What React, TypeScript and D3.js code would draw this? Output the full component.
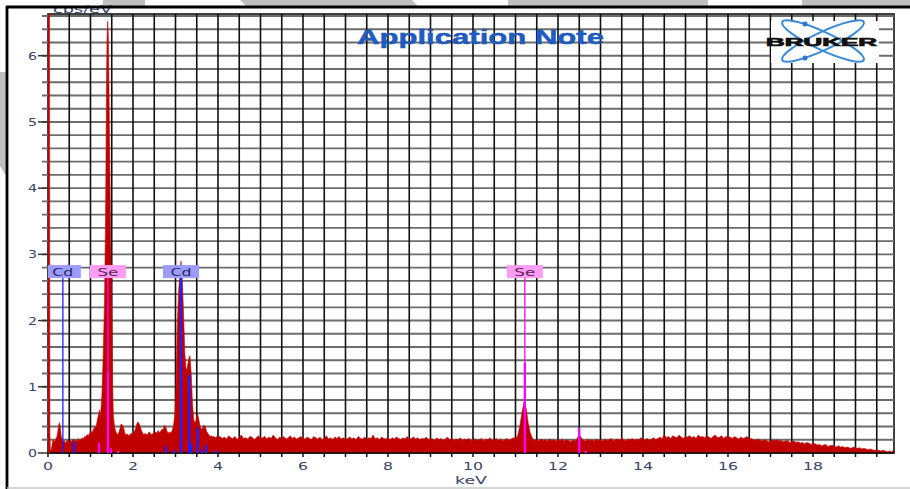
import React from 'react';
import * as d3 from 'd3';

const W = 910;
const H = 489;

// axis ticks
const xTickLabels = [0, 2, 4, 6, 8, 10, 12, 14, 16, 18];
const yTickLabels = [0, 1, 2, 3, 4, 5, 6];

// low-energy part of the spectrum (keV, cps/eV)
const lowEnergies = [
  0.0, 0.035, 0.045, 0.055, 0.07, 0.09, 0.11, 0.13, 0.15, 0.17, 0.19, 0.21, 0.23, 0.25, 0.27, 0.29,
  0.31, 0.33, 0.35, 0.38, 0.41, 0.44, 0.47, 0.5, 0.53, 0.56, 0.59, 0.62, 0.65, 0.68, 0.71, 0.74,
  0.77, 0.8, 0.83, 0.86, 0.89, 0.92, 0.95, 0.98, 1.01, 1.04, 1.07, 1.1, 1.13, 1.16, 1.19, 1.21,
  1.23, 1.25, 1.27, 1.3, 1.33, 1.35, 1.36, 1.37, 1.38, 1.39, 1.405, 1.42, 1.43, 1.44, 1.46, 1.48,
  1.5, 1.52, 1.54, 1.57, 1.6, 1.63, 1.66, 1.69, 1.72, 1.75, 1.78, 1.81, 1.84, 1.87, 1.9, 1.93,
  1.96, 1.99, 2.02, 2.05, 2.08, 2.11, 2.14, 2.17, 2.2, 2.23, 2.26, 2.29, 2.32, 2.35, 2.38, 2.41,
  2.44, 2.47, 2.5, 2.53, 2.56, 2.59, 2.62, 2.65, 2.68, 2.71, 2.74, 2.77, 2.8, 2.83, 2.86, 2.89,
  2.92, 2.95, 2.98, 3.01, 3.04, 3.07, 3.1, 3.13, 3.16, 3.19, 3.22, 3.25, 3.28, 3.31, 3.34, 3.37,
  3.4, 3.43, 3.46, 3.49, 3.52, 3.55, 3.58, 3.61, 3.64, 3.67, 3.7, 3.73, 3.76, 3.79, 3.82, 3.85,
  3.88, 3.91, 3.94, 3.97, 4.0,
];
const lowCounts = [
  7.5, 7.5, 0.3, 0.05, 0.04, 0.1, 0.18, 0.2, 0.17, 0.19, 0.22, 0.25, 0.32, 0.42, 0.46, 0.38,
  0.26, 0.2, 0.17, 0.19, 0.15, 0.18, 0.2, 0.16, 0.19, 0.17, 0.21, 0.18, 0.2, 0.17, 0.22, 0.19,
  0.2, 0.23, 0.21, 0.25, 0.24, 0.28, 0.26, 0.3, 0.33, 0.31, 0.36, 0.4, 0.38, 0.5, 0.58, 0.65,
  0.55, 0.7, 0.9, 1.5, 2.3, 3.3, 4.0, 5.0, 5.8, 6.3, 6.52, 6.3, 5.8, 5.2, 4.0, 3.0,
  2.3, 1.0, 0.55, 0.38, 0.32, 0.28, 0.3, 0.36, 0.44, 0.42, 0.38, 0.3, 0.27, 0.29, 0.26, 0.28,
  0.3, 0.27, 0.31, 0.35, 0.42, 0.47, 0.45, 0.4, 0.34, 0.3, 0.28, 0.3, 0.27, 0.29, 0.32, 0.3,
  0.27, 0.3, 0.28, 0.32, 0.3, 0.34, 0.31, 0.33, 0.36, 0.35, 0.42, 0.4, 0.33, 0.3, 0.32, 0.3,
  0.34, 0.4, 0.55, 0.9, 1.9, 2.4, 2.7, 2.9, 2.6, 2.1, 1.5, 1.25, 1.3, 1.42, 1.47, 1.2,
  0.75, 0.5, 0.45, 0.52, 0.6, 0.5, 0.4, 0.36, 0.38, 0.42, 0.4, 0.33, 0.3, 0.27, 0.25, 0.26,
  0.24, 0.25, 0.23, 0.25, 0.24,
];

// continuum channels from 4.05 keV in 0.05 keV steps
const contStart = 4.05;
const contStep = 0.05;
const contCounts = [
  0.25, 0.22, 0.24, 0.21, 0.26, 0.23, 0.22, 0.25, 0.2, 0.24, 0.27, 0.22, 0.23, 0.21, 0.25, 0.24, 0.2, 0.23, 0.26, 0.22,
  0.23, 0.25, 0.21, 0.24, 0.22, 0.27, 0.23, 0.2, 0.24, 0.22, 0.25, 0.21, 0.23, 0.26, 0.22, 0.24, 0.21, 0.23, 0.25, 0.22,
  0.21, 0.24, 0.22, 0.2, 0.25, 0.23, 0.21, 0.24, 0.2, 0.22, 0.26, 0.21, 0.23, 0.2, 0.24, 0.22, 0.25, 0.21, 0.23, 0.2,
  0.22, 0.24, 0.21, 0.23, 0.2, 0.25, 0.22, 0.21, 0.24, 0.2, 0.23, 0.22, 0.27, 0.21, 0.23, 0.2, 0.24, 0.22, 0.21, 0.23,
  0.2, 0.23, 0.21, 0.24, 0.22, 0.2, 0.23, 0.21, 0.25, 0.2, 0.22, 0.24, 0.21, 0.23, 0.2, 0.22, 0.21, 0.24, 0.2, 0.22,
  0.21, 0.19, 0.23, 0.2, 0.22, 0.19, 0.21, 0.24, 0.2, 0.22, 0.19, 0.21, 0.2, 0.23, 0.19, 0.21, 0.2, 0.22, 0.19, 0.2,
  0.21, 0.19, 0.2, 0.22, 0.18, 0.21, 0.2, 0.23, 0.19, 0.2, 0.22, 0.19, 0.21, 0.18, 0.2, 0.22, 0.19, 0.21, 0.23, 0.22,
  0.26, 0.4, 0.6, 0.77, 0.68, 0.45, 0.3, 0.22, 0.19, 0.2, 0.18, 0.21, 0.19, 0.2, 0.18, 0.21, 0.19, 0.2, 0.18, 0.2,
  0.19, 0.21, 0.18, 0.2, 0.19, 0.17, 0.2, 0.18, 0.22, 0.28, 0.23, 0.19, 0.18, 0.21, 0.19, 0.2, 0.18, 0.21, 0.19, 0.2,
  0.18, 0.21, 0.19, 0.2, 0.22, 0.18, 0.2, 0.21, 0.19, 0.23, 0.2, 0.18, 0.21, 0.2, 0.22, 0.19, 0.21, 0.2, 0.23, 0.21,
  0.2, 0.22, 0.19, 0.21, 0.23, 0.2, 0.22, 0.24, 0.21, 0.28, 0.23, 0.25, 0.22, 0.26, 0.24, 0.23, 0.27, 0.24, 0.22, 0.25,
  0.24, 0.26, 0.23, 0.25, 0.22, 0.27, 0.24, 0.25, 0.23, 0.26, 0.24, 0.22, 0.25, 0.27, 0.23, 0.24, 0.26, 0.22, 0.25, 0.24,
  0.24, 0.22, 0.25, 0.23, 0.21, 0.24, 0.22, 0.23, 0.25, 0.21, 0.22, 0.2, 0.19, 0.21, 0.2, 0.18, 0.2, 0.19, 0.17, 0.18,
  0.2, 0.19, 0.2, 0.18, 0.19, 0.17, 0.18, 0.19, 0.16, 0.17, 0.18, 0.16, 0.17, 0.15, 0.16, 0.14, 0.16, 0.15, 0.13, 0.14,
  0.14, 0.12, 0.13, 0.11, 0.12, 0.13, 0.1, 0.11, 0.12, 0.1, 0.09, 0.11, 0.09, 0.1, 0.08, 0.09, 0.08, 0.07, 0.09, 0.08,
  0.07, 0.08, 0.06, 0.07, 0.06, 0.05, 0.06, 0.05, 0.04, 0.05, 0.04, 0.03, 0.04, 0.03, 0.02, 0.03, 0.02, 0.04,
];

// element labels
const labelElements = ['Cd', 'Se', 'Cd', 'Se'];
const labelEnergies = [0.35, 1.41, 3.13, 11.22];
const labelLevel = 2.74;

// element marker lines
const cdLineEnergies = [0.61, 2.77, 2.96, 3.13, 3.32, 3.35, 3.37, 3.52, 3.62, 3.72, 3.95];
const cdLineHeights = [0.17, 0.1, 0.04, 2.74, 1.18, 0.15, 0.12, 0.38, 0.05, 0.12, 0.03];
const seLineEnergies = [1.2, 1.41, 1.48, 1.65, 11.22, 12.5, 12.65];
const seLineHeights = [0.15, 1.23, 0.07, 0.03, 1.36, 0.38, 0.03];

const elementStyle: Record<string, { line: string; box: string; text: string }> = {
  Cd: { line: '#1f1fff', box: '#9c9cff', text: '#26265e' },
  Se: { line: '#ff00ff', box: '#ff9cf6', text: '#5e2659' },
};

const PL = 48;
const PR = 894;
const PT = 14;
const PB = 453;

export default function App() {
  const x = d3.scaleLinear().domain([0, 19.906]).range([PL, PR]);
  const y = d3.scaleLinear().domain([0, 6.63]).range([PB, PT]);

  const points: [number, number][] = [
    ...lowEnergies.map((e, i) => [e, lowCounts[i]] as [number, number]),
    ...contCounts.map((v, i) => [contStart + i * contStep, v] as [number, number]),
  ];
  const areaPath = d3
    .area<[number, number]>()
    .x((d) => x(d[0]))
    .y0(y(0))
    .y1((d) => y(d[1]))(points) as string;

  const vGrid = d3.range(1, 40).map((i) => i * 0.5);
  const hGrid = d3.range(1, 34).map((i) => i * 0.2);
  const xMinor = d3.range(0, 40).map((i) => i * 0.5);

  const tickColor = '#36446a';
  const font = "'DejaVu Sans', Verdana, sans-serif";

  return (
    <svg
      width={W}
      height={H}
      viewBox={`0 0 ${W} ${H}`}
      style={{ position: 'absolute', left: 0, top: 0, background: '#fff' }}
    >
      <defs>
        <clipPath id="plotClip">
          <rect x={PL} y={PT} width={PR - PL} height={PB - PT} />
        </clipPath>
      </defs>
      <rect x={0} y={0} width={W} height={H} fill="#fff" />

      {/* background grey decorations */}
      <g fill="#c0c0c0">
        <rect x={103} y={0} width={42} height={6} />
        <polygon points="240,0 412,0 418,6 246,6" />
        <rect x={508} y={0} width={200} height={6} />
        <rect x={802} y={0} width={108} height={6} />
        <polygon points="0,72 6,72 6,176 0,166" />
      </g>

      {/* plot border (under the spectrum) */}
      <rect x={PL} y={PT} width={PR - PL} height={PB - PT} fill="none" stroke="#111" strokeWidth={1.6} />

      {/* grid */}
      <g>
        {hGrid.map((v) => (
          <line key={'h' + v} x1={PL - 6} x2={PR} y1={y(v)} y2={y(v)} stroke="#6c6c6c" strokeWidth={1.9} />
        ))}
        {vGrid.map((e) => (
          <line key={'v' + e} x1={x(e)} x2={x(e)} y1={PT} y2={PB} stroke="#111" strokeWidth={1.6} />
        ))}
      </g>

      {/* integer y ticks */}
      {yTickLabels.map((v) => (
        <line key={'yt' + v} x1={PL - 10} x2={PL} y1={y(v)} y2={y(v)} stroke="#333" strokeWidth={1.5} />
      ))}

      {/* x ticks */}
      {xMinor.map((e) => (
        <line key={'xt' + e} x1={x(e)} x2={x(e)} y1={PB} y2={PB + 4} stroke="#111" strokeWidth={1.5} />
      ))}

      {/* logo background */}
      <rect x={771} y={21} width={108} height={42} fill="#fff" />

      {/* spectrum */}
      <g clipPath="url(#plotClip)">
        <path d={areaPath} fill="#c00000" stroke="#c80a0a" strokeWidth={0.6} />
      </g>

      {/* bottom axis line on top */}
      <line x1={PL + 2} x2={PR} y1={PB} y2={PB} stroke="#111" strokeWidth={1.6} />

      {/* marker lines */}
      <g clipPath="url(#plotClip)">
        {labelEnergies.map((e, i) => (
          <line
            key={'ll' + i}
            x1={x(e)}
            x2={x(e)}
            y1={y(labelLevel) + 6}
            y2={PB}
            stroke={elementStyle[labelElements[i]].line}
            strokeWidth={1.3}
          />
        ))}
        {cdLineEnergies.map((e, i) => (
          <line
            key={'cd' + i}
            x1={x(e)}
            x2={x(e)}
            y1={y(cdLineHeights[i])}
            y2={PB}
            stroke={elementStyle.Cd.line}
            strokeWidth={2.3}
          />
        ))}
        {seLineEnergies.map((e, i) => (
          <line
            key={'se' + i}
            x1={x(e)}
            x2={x(e)}
            y1={y(seLineHeights[i])}
            y2={PB}
            stroke={elementStyle.Se.line}
            strokeWidth={2.3}
          />
        ))}
        {labelEnergies.map((e, i) => {
          const st = elementStyle[labelElements[i]];
          const cx = x(e);
          const cy = y(labelLevel);
          return (
            <g key={'lb' + i}>
              <rect x={cx - 18} y={cy - 6.5} width={36} height={13} fill={st.box} />
              <text
                x={cx}
                y={cy + 4.5}
                textAnchor="middle"
                fontFamily={font}
                fontSize={11}
                fill={st.text}
                textLength={21}
                lengthAdjust="spacingAndGlyphs"
              >
                {labelElements[i]}
              </text>
            </g>
          );
        })}
      </g>

      {/* y tick labels */}
      {yTickLabels.map((v) => (
        <text
          key={'yl' + v}
          x={37}
          y={y(v) + 4}
          textAnchor="end"
          fontFamily={font}
          fontSize={10.5}
          fill={tickColor}
          textLength={9}
          lengthAdjust="spacingAndGlyphs"
        >
          {v}
        </text>
      ))}

      {/* x tick labels */}
      {xTickLabels.map((v) => (
        <text
          key={'xl' + v}
          x={x(v)}
          y={470}
          textAnchor="middle"
          fontFamily={font}
          fontSize={10.5}
          fill={tickColor}
          textLength={String(v).length * 10}
          lengthAdjust="spacingAndGlyphs"
        >
          {v}
        </text>
      ))}
      <text
        x={471}
        y={484}
        textAnchor="middle"
        fontFamily={font}
        fontSize={10.5}
        fill={tickColor}
        textLength={32}
        lengthAdjust="spacingAndGlyphs"
      >
        keV
      </text>

      {/* y axis unit */}
      <text
        x={53}
        y={12.5}
        fontFamily={font}
        fontSize={10.5}
        fill={tickColor}
        textLength={59}
        lengthAdjust="spacingAndGlyphs"
      >
        cps/eV
      </text>

      {/* title */}
      <text
        x={357}
        y={44}
        fontFamily="'Liberation Sans', Arial, sans-serif"
        fontWeight="bold"
        fontSize={19.5}
        fill="#1f5dc6"
        stroke="#1a4fa8"
        strokeWidth={0.4}
        textLength={247}
        lengthAdjust="spacingAndGlyphs"
      >
        Application Note
      </text>

      {/* Bruker logo */}
      <g>
        <ellipse cx={823} cy={41} rx={45} ry={9} fill="none" stroke="#3b8ad8" strokeWidth={2} transform="rotate(25 823 41)" />
        <ellipse cx={823} cy={41} rx={45} ry={9} fill="none" stroke="#3b8ad8" strokeWidth={2} transform="rotate(-25 823 41)" />
        <circle cx={805} cy={24} r={2.5} fill="#2a78c8" />
        <circle cx={805} cy={58} r={2.5} fill="#2a78c8" />
        <text
          x={766}
          y={45.5}
          fontFamily="'Liberation Sans', Arial, sans-serif"
          fontWeight="bold"
          fontSize={11}
          fill="#111"
          stroke="#111"
          strokeWidth={0.7}
          textLength={111}
          lengthAdjust="spacingAndGlyphs"
        >
          BRUKER
        </text>
      </g>

      {/* outer frame */}
      <line x1={6} x2={W} y1={7} y2={7} stroke="#000" strokeWidth={2.8} />
      <line x1={7} x2={7} y1={6} y2={H} stroke="#000" strokeWidth={2.8} />
      <line x1={7} x2={W} y1={488} y2={488} stroke="#c8c8c8" strokeWidth={1.5} />
    </svg>
  );
}
